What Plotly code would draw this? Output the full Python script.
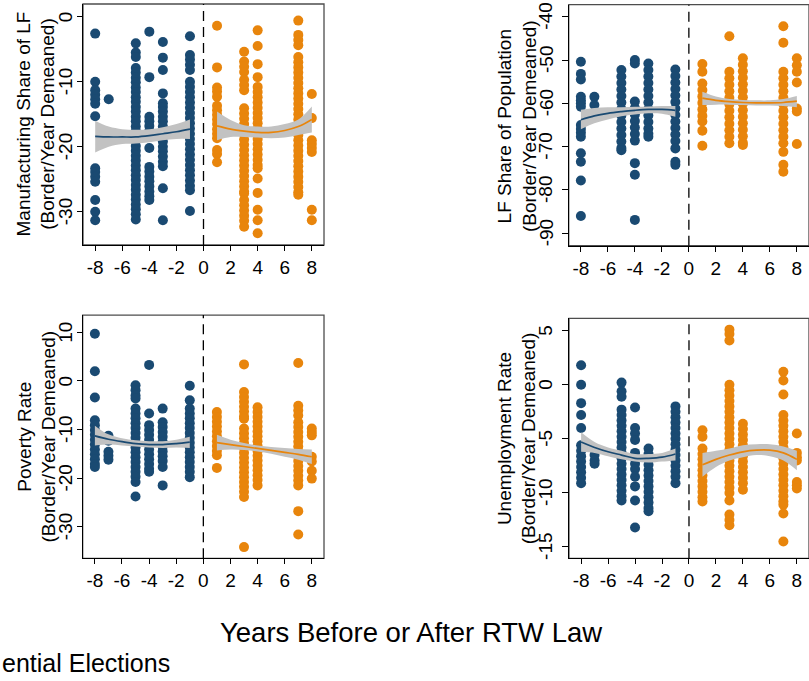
import plotly.graph_objects as go

# ---------------- data: county-border values by year relative to the RTW law ----------------
# Manufacturing share of labour force (border/year demeaned)
mfg_pre = {
    -8: [-2.6, -10.0, -11.3, -12.0, -12.7, -13.4, -15.3, -23.3, -23.9, -24.6, -25.4, -28.2, -30.0, -31.3],
    -7: [-12.7],
    -5: [-4.1, -5.5, -6.2, -7.9, -8.6, -9.4, -10.1, -10.9, -11.6, -12.4, -13.1, -13.9, -14.6, -15.4,
         -16.1, -16.9, -17.6, -18.4, -19.1, -19.9, -20.6, -21.4, -22.1, -22.9, -23.6, -24.4, -25.1,
         -25.9, -26.6, -27.4, -28.1, -28.9, -29.6, -30.4, -31.2],
    -4: [-2.3, -9.3, -15.4, -16.1, -16.8, -17.6, -20.2, -23.1, -23.8, -24.6, -25.3, -26.1, -26.9, -27.6, -28.2],
    -3: [-3.9, -6.3, -8.2, -11.8, -13.3, -13.9, -14.6, -15.4, -16.1, -16.9, -17.7, -18.4, -19.2, -20.0,
         -20.7, -21.5, -22.3, -23.0, -26.4, -31.3],
    -1: [-3.0, -5.9, -6.6, -7.4, -8.2, -10.0, -10.8, -11.6, -12.4, -13.2, -14.0, -14.8, -15.6, -16.4,
         -17.2, -18.0, -18.8, -19.6, -20.4, -21.2, -22.0, -22.8, -23.6, -24.4, -25.2, -26.0, -26.7, -29.9],
}
mfg_post = {
    1: [-1.4, -7.8, -10.9, -11.5, -12.3, -13.7, -14.4, -15.1, -15.8, -16.5, -17.3, -18.0, -18.7, -20.5, -21.1, -22.4],
    3: [-5.4, -6.9, -7.7, -8.5, -9.7, -10.5, -11.3, -14.1, -14.9, -15.7, -16.5, -17.3, -18.1, -18.9, -19.7,
        -20.5, -21.3, -22.1, -22.9, -23.7, -24.5, -25.3, -26.1, -26.9, -27.2, -28.2, -29.0, -29.8, -30.6,
        -31.4, -32.3],
    4: [-2.1, -4.5, -7.3, -9.3, -10.8, -11.6, -12.4, -13.2, -14.0, -14.8, -15.6, -16.4, -17.2, -18.0, -18.8,
        -19.6, -20.4, -21.2, -22.0, -22.8, -23.3, -24.9, -27.1, -29.7, -31.3, -33.3],
    7: [-0.6, -2.8, -3.6, -4.4, -6.2, -7.0, -7.8, -8.6, -9.4, -10.2, -11.0, -11.8, -12.6, -13.4, -14.2, -15.0,
        -15.8, -16.6, -17.4, -18.2, -19.0, -19.8, -20.6, -21.4, -22.2, -23.0, -23.8, -24.6, -25.4, -26.2,
        -27.0, -27.4],
    8: [-11.9, -15.6, -19.0, -19.6, -20.2, -20.8, -29.7, -31.3],
}

# Labour force share of population
lfp_pre = {
    -8: [-50.4, -53.2, -54.5, -58.5, -59.3, -60.0, -60.8, -65.0, -65.9, -66.8, -67.7, -71.5, -73.5, -77.8, -86.0],
    -7: [-58.5, -60.4],
    -5: [-52.3, -53.8, -55.3, -56.8, -58.3, -59.8, -61.3, -62.8, -64.3, -65.8, -67.3, -68.8, -70.3, -70.8],
    -4: [-50.0, -50.8, -59.6, -61.1, -62.6, -64.1, -65.6, -67.1, -68.6, -73.8, -76.5, -86.9],
    -3: [-50.8, -52.3, -53.8, -55.3, -56.8, -58.3, -59.8, -61.3, -62.8, -64.3, -65.8, -67.0, -67.7],
    -1: [-52.2, -53.7, -55.2, -56.7, -58.2, -59.7, -61.2, -62.7, -64.2, -65.7, -67.2, -68.7, -70.4, -73.5, -74.2],
}
lfp_post = {
    1: [-50.9, -52.7, -55.4, -56.9, -58.4, -59.9, -61.4, -62.9, -64.2, -66.3, -69.8],
    3: [-44.5, -52.7, -54.2, -55.7, -57.2, -58.7, -60.2, -61.7, -63.2, -64.7, -66.2, -67.7, -69.2],
    4: [-49.6, -51.1, -52.6, -54.1, -55.6, -57.1, -58.6, -60.1, -61.6, -63.1, -64.6, -66.1, -67.6, -69.1, -69.6],
    7: [-42.2, -46.0, -52.7, -54.2, -55.7, -57.2, -58.7, -60.2, -61.7, -63.2, -64.7, -66.2, -67.7, -69.2,
        -71.2, -74.2, -75.8],
    8: [-49.6, -51.2, -52.7, -55.2, -61.2, -61.9, -69.4],
}

# Poverty rate
pov_pre = {
    -8: [9.7, 2.0, -3.4, -8.1, -9.1, -10.1, -11.1, -12.1, -13.1, -14.1, -15.1, -16.1, -17.1, -17.7],
    -7: [-11.3, -12.3, -14.6, -15.4, -16.2],
    -5: [-0.9, -1.9, -3.0, -3.6, -5.7, -6.7, -7.7, -8.7, -9.7, -10.7, -11.7, -12.7, -13.7, -14.7, -15.7,
         -16.7, -17.7, -18.7, -19.7, -20.8, -23.8],
    -4: [3.3, -6.7, -9.1, -10.1, -11.1, -12.1, -13.1, -14.1, -15.1, -16.1, -17.1, -18.1, -18.7],
    -3: [-5.7, -8.5, -9.5, -10.5, -11.5, -12.5, -13.5, -14.5, -15.5, -16.5, -17.7, -21.5],
    -1: [-1.0, -4.0, -5.7, -6.7, -7.7, -8.7, -9.7, -10.7, -11.7, -12.7, -13.7, -14.7, -15.7, -16.7, -17.7,
         -18.7, -19.8],
}
pov_post = {
    1: [-6.4, -7.4, -8.4, -9.4, -10.4, -11.4, -12.4, -13.4, -14.4, -15.3, -17.9],
    3: [3.4, -2.3, -3.3, -4.3, -5.3, -6.3, -7.3, -7.8, -9.8, -10.8, -11.8, -12.8, -13.8, -14.8, -15.8,
        -16.8, -17.8, -18.8, -19.8, -20.8, -21.8, -22.8, -23.9, -34.2],
    4: [-5.4, -6.4, -7.4, -8.4, -9.4, -10.4, -11.4, -12.4, -13.4, -14.4, -15.4, -16.4, -17.4, -18.4, -19.4,
        -20.4, -21.5],
    7: [3.7, -5.1, -6.1, -7.1, -8.5, -9.5, -10.5, -11.5, -12.5, -13.5, -14.5, -15.5, -16.5, -17.5, -18.5,
        -19.5, -20.5, -21.5, -26.8, -31.6],
    8: [-9.8, -10.5, -11.2, -15.6, -16.6, -18.5, -20.1],
}

# Unemployment rate
une_pre = {
    -8: [1.8, 0.0, -1.7, -2.8, -4.0, -5.6, -6.1, -6.6, -7.1, -7.6, -8.1, -8.6, -9.1],
    -7: [-6.0, -6.5, -7.0, -7.3],
    -5: [0.2, -0.6, -1.1, -2.3, -2.8, -3.3, -3.8, -4.3, -4.8, -5.3, -5.8, -6.3, -6.8, -7.3, -7.8, -8.3,
         -8.8, -9.3, -9.8, -10.3, -10.7],
    -4: [-2.1, -4.0, -4.5, -5.1, -6.3, -6.8, -7.3, -7.8, -8.5, -9.4, -10.7, -13.2],
    -3: [-5.9, -6.4, -6.9, -7.4, -7.9, -8.4, -8.9, -9.4, -9.9, -10.4, -10.9, -11.4, -11.7],
    -1: [-2.0, -2.5, -3.0, -3.5, -4.0, -4.5, -5.0, -5.5, -6.0, -6.5, -7.0, -7.5, -8.0, -8.5, -9.1],
}
une_post = {
    1: [-4.2, -4.8, -5.9, -6.4, -6.9, -7.4, -7.9, -8.4, -8.9, -9.4, -9.9, -10.4, -10.8],
    3: [5.1, 4.7, 4.1, 0.0, -0.5, -1.0, -1.5, -2.0, -2.5, -3.0, -3.5, -4.0, -4.5, -5.0, -5.5, -6.0, -6.5,
        -7.0, -7.5, -8.0, -8.5, -9.0, -9.5, -10.0, -10.7, -12.0, -12.5, -13.0],
    4: [-3.6, -4.1, -4.6, -5.1, -5.6, -6.1, -6.6, -7.1, -7.6, -8.1, -8.6, -9.1, -9.7],
    7: [1.2, 0.4, -0.9, -2.8, -3.3, -3.8, -4.3, -4.8, -5.3, -5.8, -6.3, -6.8, -7.3, -7.8, -8.3, -8.8, -9.3,
        -9.8, -10.3, -10.8, -11.1, -11.9, -14.5],
    8: [-4.5, -6.3, -6.7, -7.0, -9.0, -9.3, -9.6],
}

# ---------------- quadratic fits with 95% CI, evaluated at each year ----------------
years_pre = [-8, -7, -6, -5, -4, -3, -2, -1]
years_post = [1, 2, 3, 4, 5, 6, 7, 8]

mfg_fit_pre = [-18.4, -18.5, -18.5, -18.5, -18.3, -18.0, -17.7, -17.3]
mfg_hi_pre = [-16.0, -16.9, -17.3, -17.4, -17.3, -17.0, -16.5, -15.8]
mfg_lo_pre = [-20.9, -20.0, -19.6, -19.5, -19.3, -19.0, -18.8, -18.8]
mfg_fit_post = [-16.8, -17.3, -17.6, -17.8, -17.8, -17.5, -16.9, -15.8]
mfg_hi_post = [-14.6, -15.9, -16.7, -16.9, -16.9, -16.5, -15.8, -13.8]
mfg_lo_post = [-19.0, -18.5, -18.5, -18.6, -18.7, -18.6, -18.2, -17.8]

lfp_fit_pre = [-63.8, -62.9, -62.3, -61.9, -61.6, -61.4, -61.4, -61.6]
lfp_hi_pre = [-61.5, -61.1, -60.9, -60.9, -60.8, -60.7, -60.6, -60.6]
lfp_lo_pre = [-66.0, -64.6, -63.7, -63.0, -62.6, -62.3, -62.4, -63.1]
lfp_fit_post = [-58.8, -59.3, -59.6, -59.8, -59.9, -59.9, -59.8, -59.5]
lfp_hi_post = [-57.3, -58.4, -59.0, -59.2, -59.3, -59.3, -59.0, -58.3]
lfp_lo_post = [-60.4, -60.3, -60.3, -60.4, -60.5, -60.5, -60.6, -60.9]

pov_fit_pre = [-11.3, -12.0, -12.5, -12.9, -13.1, -13.1, -12.9, -12.6]
pov_hi_pre = [-9.2, -11.0, -11.8, -12.2, -12.4, -12.4, -12.1, -11.5]
pov_lo_pre = [-13.3, -13.1, -13.3, -13.5, -13.7, -13.8, -13.7, -13.8]
pov_fit_post = [-12.7, -13.1, -13.5, -13.9, -14.3, -14.7, -15.1, -15.6]
pov_hi_post = [-11.1, -12.1, -12.8, -13.3, -13.6, -13.8, -14.0, -14.1]
pov_lo_post = [-14.3, -14.1, -14.2, -14.5, -15.0, -15.6, -16.2, -17.1]

une_fit_pre = [-5.3, -5.8, -6.2, -6.5, -6.8, -6.8, -6.7, -6.4]
une_hi_pre = [-4.4, -5.3, -5.8, -6.1, -6.4, -6.4, -6.3, -5.9]
une_lo_pre = [-6.2, -6.3, -6.6, -6.9, -7.1, -7.2, -7.1, -7.0]
une_fit_post = [-7.4, -6.9, -6.5, -6.2, -6.05, -6.05, -6.3, -6.9]
une_hi_post = [-6.3, -6.1, -5.9, -5.6, -5.5, -5.5, -5.7, -6.1]
une_lo_post = [-8.5, -7.6, -7.0, -6.7, -6.5, -6.6, -7.0, -7.9]

x_ticks = [-8, -6, -4, -2, 0, 2, 4, 6, 8]

# ---------------- styling ----------------
FONT = "Liberation Sans, Arial, sans-serif"
NAVY = "#1a4a72"
ORANGE = "#e8850c"
BAND = "#c2c2c2"
MARKER_SIZE = 10

panels = [
    dict(pre=mfg_pre, post=mfg_post,
         fits=(mfg_fit_pre, mfg_hi_pre, mfg_lo_pre, mfg_fit_post, mfg_hi_post, mfg_lo_post),
         title="Manufacturing Share of LF<br>(Border/Year Demeaned)",
         xdom=[0.1026, 0.4005], ydom=[0.6402, 0.9941], yrange=[-35.12, 1.95],
         yticks=[0, -10, -20, -30], ylab_x=65.5, ticklen=5, title_x=36, title_y=124.5),
    dict(pre=lfp_pre, post=lfp_post,
         fits=(lfp_fit_pre, lfp_hi_pre, lfp_lo_pre, lfp_fit_post, lfp_hi_post, lfp_lo_post),
         title="LF Share of Population<br>(Border/Year Demeaned)",
         xdom=[0.7030, 1.0], ydom=[0.6392, 0.9931], yrange=[-92.86, -37.23],
         yticks=[-40, -50, -60, -70, -80, -90], ylab_x=546, ticklen=6, title_x=517, title_y=126),
    dict(pre=pov_pre, post=pov_post,
         fits=(pov_fit_pre, pov_hi_pre, pov_lo_pre, pov_fit_post, pov_hi_post, pov_lo_post),
         title="Poverty Rate<br>(Border/Year Demeaned)",
         xdom=[0.1022, 0.4005], ydom=[0.1802, 0.5374], yrange=[-36.5, 13.56],
         yticks=[10, 0, -10, -20, -30], ylab_x=65.5, ticklen=5, title_x=36, title_y=436.5),
    dict(pre=une_pre, post=une_post,
         fits=(une_fit_pre, une_hi_pre, une_lo_pre, une_fit_post, une_hi_post, une_lo_post),
         title="Unemployment Rate<br>(Border/Year Demeaned)",
         xdom=[0.7033, 1.0], ydom=[0.1802, 0.5326], yrange=[-16.05, 6.15],
         yticks=[5, 0, -5, -10, -15], ylab_x=546, ticklen=6, title_x=517, title_y=438.3),
]

W, H = 809, 681
fig = go.Figure()
shapes = []
annotations = []


def flatten(groups):
    xs, ys = [], []
    for yr, vals in groups.items():
        for v in vals:
            xs.append(yr)
            ys.append(v)
    return xs, ys


for i, p in enumerate(panels):
    n = "" if i == 0 else str(i + 1)
    xa, ya = "x" + n, "y" + n

    # scatter of county pairs before / after
    for groups, col in ((p["pre"], NAVY), (p["post"], ORANGE)):
        xs, ys = flatten(groups)
        fig.add_trace(go.Scatter(x=xs, y=ys, mode="markers", xaxis=xa, yaxis=ya,
                                 marker=dict(size=MARKER_SIZE, color=col, line=dict(width=0)),
                                 showlegend=False, hoverinfo="skip"))

    fit_pre, hi_pre, lo_pre, fit_post, hi_post, lo_post = p["fits"]
    for yrs, fit, hi, lo, col in ((years_pre, fit_pre, hi_pre, lo_pre, NAVY),
                                  (years_post, fit_post, hi_post, lo_post, ORANGE)):
        fig.add_trace(go.Scatter(x=yrs, y=lo, mode="lines", xaxis=xa, yaxis=ya,
                                 line=dict(width=0, shape="spline", color=BAND),
                                 showlegend=False, hoverinfo="skip"))
        fig.add_trace(go.Scatter(x=yrs, y=hi, mode="lines", xaxis=xa, yaxis=ya, fill="tonexty",
                                 fillcolor=BAND, line=dict(width=0, shape="spline", color=BAND),
                                 showlegend=False, hoverinfo="skip"))
        fig.add_trace(go.Scatter(x=yrs, y=fit, mode="lines", xaxis=xa, yaxis=ya,
                                 line=dict(width=1.7, shape="spline", color=col),
                                 showlegend=False, hoverinfo="skip"))

    axis_common = dict(showline=True, linecolor="black", linewidth=1.3, ticks="outside",
                       tickwidth=1.2, tickcolor="black", showgrid=False, zeroline=False,
                       tickfont=dict(family=FONT, size=19, color="black"), fixedrange=True)
    fig.update_layout(**{
        "xaxis" + n: dict(domain=p["xdom"], range=[-8.9, 8.9], anchor=ya, tickmode="array", ticklen=5,
                          tickvals=x_ticks, ticktext=[str(v) for v in x_ticks], **axis_common),
        "yaxis" + n: dict(domain=p["ydom"], range=p["yrange"], anchor=xa, tickmode="array",
                          ticklen=p["ticklen"], tickvals=p["yticks"], showticklabels=False, **axis_common),
    })

    # vertical (rotated) y tick labels placed on the y scale
    for v in p["yticks"]:
        annotations.append(dict(text=str(v), xref="paper", yref=ya, x=p["ylab_x"] / W, y=v,
                                xanchor="center", yanchor="middle", textangle=-90, showarrow=False,
                                font=dict(family=FONT, size=19, color="black")))

    # plot-region frame (top and right edges)
    shapes.append(dict(type="rect", xref=xa + " domain", yref=ya + " domain", x0=0, x1=1, y0=0, y1=1,
                       line=dict(color="#4d4d4d", width=1.3), layer="below"))
    # law-change reference line
    shapes.append(dict(type="line", xref=xa, yref=ya + " domain", x0=0, x1=0, y0=0, y1=1,
                       line=dict(color="black", width=1.3, dash="10px,6px"), layer="above"))

    annotations.append(dict(text=p["title"], xref="paper", yref="paper",
                            x=p["title_x"] / W, y=1 - p["title_y"] / H, xanchor="center", yanchor="middle",
                            textangle=-90, showarrow=False,
                            font=dict(family=FONT, size=19, color="black")))

annotations.append(dict(text="Years Before or After RTW Law", xref="paper", yref="paper",
                        x=411 / W, y=1 - 632 / H, xanchor="center", yanchor="middle", showarrow=False,
                        font=dict(family=FONT, size=27.5, color="black")))
annotations.append(dict(text="ential Elections", xref="paper", yref="paper",
                        x=0, y=1 - 663 / H, xanchor="left", yanchor="middle", showarrow=False,
                        font=dict(family=FONT, size=25, color="black")))

fig.update_layout(width=W, height=H, margin=dict(l=0, r=0, t=0, b=0),
                  paper_bgcolor="white", plot_bgcolor="white",
                  shapes=shapes, annotations=annotations, showlegend=False)

fig.write_html("out.html")
